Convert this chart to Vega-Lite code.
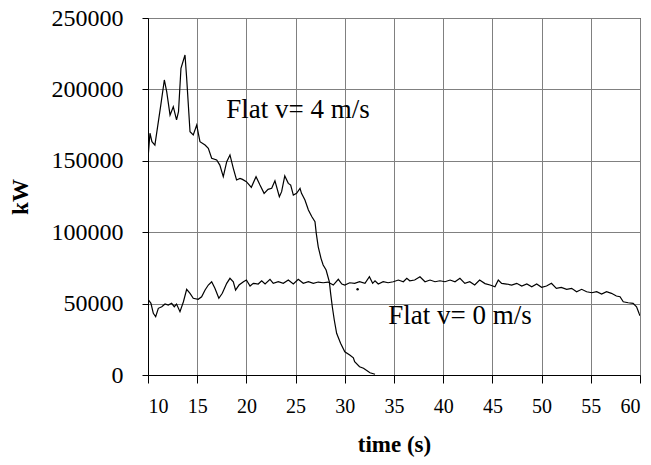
{
  "$schema": "https://vega.github.io/schema/vega-lite/v6.json",
  "autosize": "none",
  "width": 492,
  "height": 357,
  "padding": {"left": 148, "top": 18, "right": 11, "bottom": 90},
  "background": "white",
  "config": {
    "view": {"stroke": "black", "strokeWidth": 1},
    "font": "Liberation Serif, Times New Roman, serif"
  },
  "datasets": {
    "curves": [
      {"series": "v4", "t": 10.0, "kW": 151700},
      {"series": "v4", "t": 10.2, "kW": 169300},
      {"series": "v4", "t": 10.4, "kW": 163400},
      {"series": "v4", "t": 10.7, "kW": 161000},
      {"series": "v4", "t": 11.0, "kW": 175000},
      {"series": "v4", "t": 11.3, "kW": 189000},
      {"series": "v4", "t": 11.66, "kW": 206600},
      {"series": "v4", "t": 11.9, "kW": 198400},
      {"series": "v4", "t": 12.24, "kW": 182000},
      {"series": "v4", "t": 12.57, "kW": 187900},
      {"series": "v4", "t": 12.9, "kW": 178600},
      {"series": "v4", "t": 13.1, "kW": 184400},
      {"series": "v4", "t": 13.35, "kW": 214800},
      {"series": "v4", "t": 13.76, "kW": 224100},
      {"series": "v4", "t": 13.93, "kW": 207800},
      {"series": "v4", "t": 14.27, "kW": 170400},
      {"series": "v4", "t": 14.6, "kW": 168100},
      {"series": "v4", "t": 14.95, "kW": 175000},
      {"series": "v4", "t": 15.28, "kW": 163400},
      {"series": "v4", "t": 15.8, "kW": 161000},
      {"series": "v4", "t": 16.13, "kW": 158800},
      {"series": "v4", "t": 16.47, "kW": 151800},
      {"series": "v4", "t": 16.98, "kW": 150600},
      {"series": "v4", "t": 17.3, "kW": 147000},
      {"series": "v4", "t": 17.65, "kW": 138900},
      {"series": "v4", "t": 18.0, "kW": 149400},
      {"series": "v4", "t": 18.33, "kW": 154100},
      {"series": "v4", "t": 18.67, "kW": 144700},
      {"series": "v4", "t": 19.0, "kW": 136600},
      {"series": "v4", "t": 19.35, "kW": 137700},
      {"series": "v4", "t": 19.6, "kW": 137000},
      {"series": "v4", "t": 20.0, "kW": 135400},
      {"series": "v4", "t": 20.5, "kW": 131400},
      {"series": "v4", "t": 20.98, "kW": 138900},
      {"series": "v4", "t": 21.38, "kW": 133000},
      {"series": "v4", "t": 21.8, "kW": 127200},
      {"series": "v4", "t": 22.2, "kW": 130000},
      {"series": "v4", "t": 22.57, "kW": 130700},
      {"series": "v4", "t": 22.9, "kW": 136000},
      {"series": "v4", "t": 23.35, "kW": 124900},
      {"series": "v4", "t": 23.58, "kW": 128400},
      {"series": "v4", "t": 23.9, "kW": 139400},
      {"series": "v4", "t": 24.26, "kW": 134200},
      {"series": "v4", "t": 24.5, "kW": 133000},
      {"series": "v4", "t": 24.77, "kW": 126000},
      {"series": "v4", "t": 25.1, "kW": 127200},
      {"series": "v4", "t": 25.45, "kW": 130700},
      {"series": "v4", "t": 25.6, "kW": 127200},
      {"series": "v4", "t": 25.95, "kW": 122500},
      {"series": "v4", "t": 26.3, "kW": 115500},
      {"series": "v4", "t": 26.64, "kW": 111000},
      {"series": "v4", "t": 26.97, "kW": 107400},
      {"series": "v4", "t": 27.1, "kW": 99200},
      {"series": "v4", "t": 27.3, "kW": 89800},
      {"series": "v4", "t": 27.58, "kW": 81700},
      {"series": "v4", "t": 27.8, "kW": 77000},
      {"series": "v4", "t": 28.1, "kW": 73500},
      {"series": "v4", "t": 28.43, "kW": 65300},
      {"series": "v4", "t": 28.56, "kW": 57200},
      {"series": "v4", "t": 28.73, "kW": 47800},
      {"series": "v4", "t": 28.93, "kW": 38500},
      {"series": "v4", "t": 29.17, "kW": 29200},
      {"series": "v4", "t": 29.57, "kW": 22200},
      {"series": "v4", "t": 30.0, "kW": 16300},
      {"series": "v4", "t": 30.5, "kW": 14000},
      {"series": "v4", "t": 30.87, "kW": 12000},
      {"series": "v4", "t": 31.0, "kW": 9300},
      {"series": "v4", "t": 31.5, "kW": 5800},
      {"series": "v4", "t": 31.9, "kW": 4700},
      {"series": "v4", "t": 32.56, "kW": 1600},
      {"series": "v4", "t": 33.07, "kW": 500},

      {"series": "v0", "t": 10.0, "kW": 53000},
      {"series": "v0", "t": 10.3, "kW": 50200},
      {"series": "v0", "t": 10.54, "kW": 43200},
      {"series": "v0", "t": 10.78, "kW": 40800},
      {"series": "v0", "t": 11.05, "kW": 46700},
      {"series": "v0", "t": 11.4, "kW": 47800},
      {"series": "v0", "t": 11.73, "kW": 49700},
      {"series": "v0", "t": 12.06, "kW": 49000},
      {"series": "v0", "t": 12.4, "kW": 50200},
      {"series": "v0", "t": 12.67, "kW": 47800},
      {"series": "v0", "t": 12.9, "kW": 49700},
      {"series": "v0", "t": 13.25, "kW": 44300},
      {"series": "v0", "t": 13.6, "kW": 51300},
      {"series": "v0", "t": 13.93, "kW": 60000},
      {"series": "v0", "t": 14.27, "kW": 57200},
      {"series": "v0", "t": 14.6, "kW": 53700},
      {"series": "v0", "t": 15.1, "kW": 53000},
      {"series": "v0", "t": 15.45, "kW": 54800},
      {"series": "v0", "t": 15.8, "kW": 59500},
      {"series": "v0", "t": 16.13, "kW": 63000},
      {"series": "v0", "t": 16.47, "kW": 65300},
      {"series": "v0", "t": 16.8, "kW": 60700},
      {"series": "v0", "t": 17.2, "kW": 53700},
      {"series": "v0", "t": 17.55, "kW": 57200},
      {"series": "v0", "t": 18.0, "kW": 64200},
      {"series": "v0", "t": 18.33, "kW": 67700},
      {"series": "v0", "t": 18.67, "kW": 65300},
      {"series": "v0", "t": 18.9, "kW": 59500},
      {"series": "v0", "t": 19.25, "kW": 63000},
      {"series": "v0", "t": 19.7, "kW": 65300},
      {"series": "v0", "t": 20.0, "kW": 66500},
      {"series": "v0", "t": 20.37, "kW": 62300},
      {"series": "v0", "t": 20.7, "kW": 64200},
      {"series": "v0", "t": 21.2, "kW": 63700},
      {"series": "v0", "t": 21.55, "kW": 66000},
      {"series": "v0", "t": 21.9, "kW": 63700},
      {"series": "v0", "t": 22.4, "kW": 67000},
      {"series": "v0", "t": 22.73, "kW": 64200},
      {"series": "v0", "t": 23.24, "kW": 65300},
      {"series": "v0", "t": 23.75, "kW": 64200},
      {"series": "v0", "t": 24.26, "kW": 66500},
      {"series": "v0", "t": 24.77, "kW": 63700},
      {"series": "v0", "t": 25.27, "kW": 67000},
      {"series": "v0", "t": 25.78, "kW": 64200},
      {"series": "v0", "t": 26.3, "kW": 65300},
      {"series": "v0", "t": 26.8, "kW": 64200},
      {"series": "v0", "t": 27.3, "kW": 65100},
      {"series": "v0", "t": 27.8, "kW": 64600},
      {"series": "v0", "t": 28.3, "kW": 65100},
      {"series": "v0", "t": 28.83, "kW": 63000},
      {"series": "v0", "t": 29.34, "kW": 67000},
      {"series": "v0", "t": 29.7, "kW": 63700},
      {"series": "v0", "t": 30.0, "kW": 63000},
      {"series": "v0", "t": 30.5, "kW": 64600},
      {"series": "v0", "t": 31.0, "kW": 64200},
      {"series": "v0", "t": 31.5, "kW": 65300},
      {"series": "v0", "t": 32.05, "kW": 64200},
      {"series": "v0", "t": 32.5, "kW": 68800},
      {"series": "v0", "t": 32.83, "kW": 64200},
      {"series": "v0", "t": 33.07, "kW": 66000},
      {"series": "v0", "t": 33.4, "kW": 63700},
      {"series": "v0", "t": 33.9, "kW": 65300},
      {"series": "v0", "t": 34.4, "kW": 64600},
      {"series": "v0", "t": 34.93, "kW": 65300},
      {"series": "v0", "t": 35.44, "kW": 66500},
      {"series": "v0", "t": 35.95, "kW": 65300},
      {"series": "v0", "t": 36.3, "kW": 67700},
      {"series": "v0", "t": 36.6, "kW": 66000},
      {"series": "v0", "t": 37.1, "kW": 66500},
      {"series": "v0", "t": 37.64, "kW": 68800},
      {"series": "v0", "t": 38.15, "kW": 65300},
      {"series": "v0", "t": 38.66, "kW": 66500},
      {"series": "v0", "t": 39.17, "kW": 65300},
      {"series": "v0", "t": 39.67, "kW": 66000},
      {"series": "v0", "t": 40.18, "kW": 65300},
      {"series": "v0", "t": 40.7, "kW": 66500},
      {"series": "v0", "t": 41.2, "kW": 65300},
      {"series": "v0", "t": 41.7, "kW": 67700},
      {"series": "v0", "t": 42.2, "kW": 64200},
      {"series": "v0", "t": 42.7, "kW": 65300},
      {"series": "v0", "t": 43.2, "kW": 63000},
      {"series": "v0", "t": 43.7, "kW": 66500},
      {"series": "v0", "t": 44.25, "kW": 64000},
      {"series": "v0", "t": 44.76, "kW": 63000},
      {"series": "v0", "t": 45.26, "kW": 61800},
      {"series": "v0", "t": 45.6, "kW": 66500},
      {"series": "v0", "t": 45.94, "kW": 64200},
      {"series": "v0", "t": 46.45, "kW": 63700},
      {"series": "v0", "t": 46.96, "kW": 63000},
      {"series": "v0", "t": 47.47, "kW": 64200},
      {"series": "v0", "t": 47.98, "kW": 62300},
      {"series": "v0", "t": 48.5, "kW": 63700},
      {"series": "v0", "t": 49.0, "kW": 61800},
      {"series": "v0", "t": 49.5, "kW": 63700},
      {"series": "v0", "t": 50.0, "kW": 61400},
      {"series": "v0", "t": 50.5, "kW": 62300},
      {"series": "v0", "t": 51.0, "kW": 64200},
      {"series": "v0", "t": 51.5, "kW": 60700},
      {"series": "v0", "t": 52.0, "kW": 61400},
      {"series": "v0", "t": 52.55, "kW": 60000},
      {"series": "v0", "t": 53.05, "kW": 60700},
      {"series": "v0", "t": 53.56, "kW": 58300},
      {"series": "v0", "t": 54.07, "kW": 60000},
      {"series": "v0", "t": 54.58, "kW": 58300},
      {"series": "v0", "t": 55.1, "kW": 57600},
      {"series": "v0", "t": 55.6, "kW": 58300},
      {"series": "v0", "t": 56.1, "kW": 56700},
      {"series": "v0", "t": 56.6, "kW": 58300},
      {"series": "v0", "t": 57.1, "kW": 57200},
      {"series": "v0", "t": 57.6, "kW": 55300},
      {"series": "v0", "t": 57.97, "kW": 54800},
      {"series": "v0", "t": 58.3, "kW": 51300},
      {"series": "v0", "t": 58.8, "kW": 50600},
      {"series": "v0", "t": 59.3, "kW": 50200},
      {"series": "v0", "t": 59.65, "kW": 47800},
      {"series": "v0", "t": 59.9, "kW": 43200},
      {"series": "v0", "t": 60.0, "kW": 41500}
    ],
    "dots": [
      {"t": 31.3, "kW": 60000}
    ],
    "labels": [
      {"t": 17.95, "kW": 179800, "label": "Flat v= 4 m/s"},
      {"t": 34.42, "kW": 35500, "label": "Flat v= 0 m/s"}
    ]
  },
  "layer": [
    {
      "data": {"name": "curves"},
      "mark": {"type": "line", "color": "black", "strokeWidth": 1.2, "clip": true},
      "encoding": {
        "x": {
          "field": "t", "type": "quantitative",
          "scale": {"domain": [10, 60], "nice": false, "zero": false},
          "axis": {
            "title": "time (s)",
            "values": [10, 15, 20, 25, 30, 35, 40, 45, 50, 55, 60],
            "grid": true, "gridColor": "#808080", "gridWidth": 1,
            "domainColor": "black", "tickColor": "black", "tickSize": 8,
            "labelFont": "Liberation Serif, Times New Roman, serif", "labelFontSize": 20, "labelColor": "black",
            "labelPadding": 13,
            "titleFont": "Liberation Serif, Times New Roman, serif", "titleFontSize": 23, "titleFontWeight": "bold",
            "titleColor": "black", "titlePadding": 17
          }
        },
        "y": {
          "field": "kW", "type": "quantitative",
          "scale": {"domain": [0, 250000], "nice": false},
          "axis": {
            "title": "kW",
            "values": [0, 50000, 100000, 150000, 200000, 250000],
            "format": "d",
            "grid": true, "gridColor": "#808080", "gridWidth": 1,
            "domainColor": "black", "tickColor": "black", "tickSize": 6,
            "labelFont": "Liberation Serif, Times New Roman, serif", "labelFontSize": 24, "labelColor": "black",
            "labelPadding": 19,
            "titleFont": "Liberation Serif, Times New Roman, serif", "titleFontSize": 23, "titleFontWeight": "bold",
            "titleColor": "black", "titlePadding": 19
          }
        },
        "detail": {"field": "series", "type": "nominal"}
      }
    },
    {
      "data": {"name": "dots"},
      "mark": {"type": "point", "filled": true, "color": "black", "size": 6, "opacity": 1},
      "encoding": {
        "x": {"field": "t", "type": "quantitative"},
        "y": {"field": "kW", "type": "quantitative"}
      }
    },
    {
      "data": {"name": "labels"},
      "mark": {"type": "text", "font": "Liberation Serif, Times New Roman, serif", "fontSize": 27, "align": "left", "baseline": "alphabetic", "color": "black"},
      "encoding": {
        "x": {"field": "t", "type": "quantitative"},
        "y": {"field": "kW", "type": "quantitative"},
        "text": {"field": "label", "type": "nominal"}
      }
    }
  ]
}
